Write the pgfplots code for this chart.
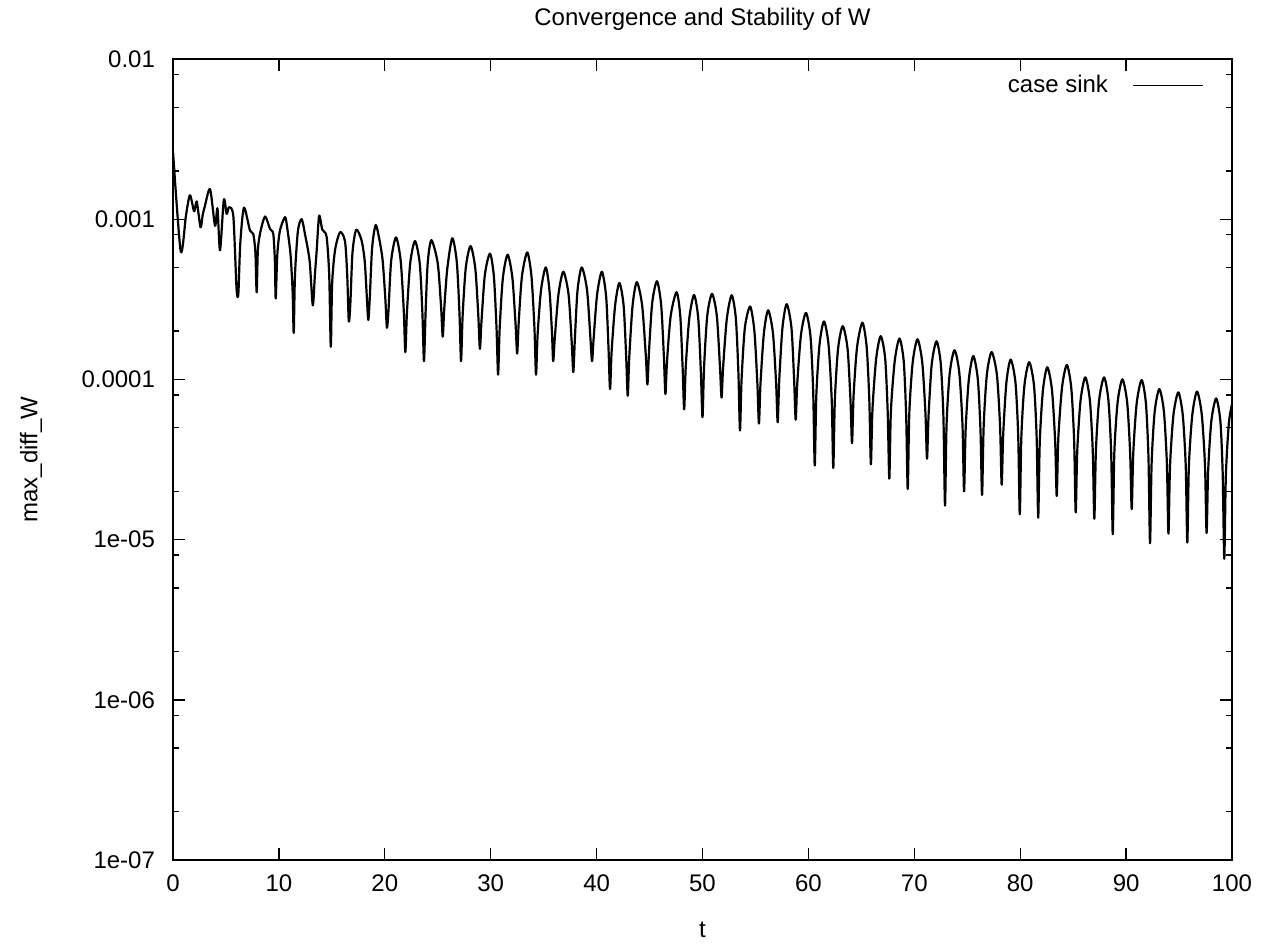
\documentclass[border=0pt]{standalone}
\usepackage{fontspec}
\setmainfont{Liberation Sans}
\usepackage{pgfplots}
\pgfplotsset{compat=1.18}
\begin{document}
\begin{tikzpicture}[font=\fontsize{12}{14}\selectfont]
\useasboundingbox (-86.5pt,-43.5pt) rectangle (554pt,430pt);
\begin{axis}[
    at={(0,0)}, anchor=south west,
    scale only axis,
    width=529.5pt, height=400.5pt,
    ymode=log,
    xmin=0, xmax=100,
    ymin=1e-7, ymax=1e-2,
    xtick={0,10,...,100},
    xticklabels={0,10,20,30,40,50,60,70,80,90,100},
    ytick={1e-7,1e-6,1e-5,1e-4,1e-3,1e-2},
    yticklabels={1e-07,1e-06,1e-05,0.0001,0.001,0.01},
    minor ytick={2e-7,5e-7,8e-7,2e-6,5e-6,8e-6,2e-5,5e-5,8e-5,2e-4,5e-4,8e-4,2e-3,5e-3,8e-3},
    minor x tick num=0,
    tick align=inside,
    major tick length=6pt,
    minor tick length=3pt,
    axis line style={line width=0.8pt},
    every tick/.style={black, line width=0.7pt},
    title={Convergence and Stability of W},
    title style={at={(rel axis cs:0.5,1)}, anchor=center, yshift=14pt},
    xlabel={t},
    xlabel style={at={(rel axis cs:0.5,0)}, anchor=center, yshift=-35pt},
    ylabel={max\_diff\_W},
    ylabel style={at={(rel axis cs:0,0.5)}, anchor=center, yshift=71pt},
    yticklabel style={xshift=-5.5pt},
    xticklabel style={yshift=-4pt},
    legend plot pos=right,
    legend style={at={(rel axis cs:1,1)}, anchor=north east, draw=none, fill=none,
        xshift=-11pt, yshift=-4pt, font=\fontsize{12}{14}\selectfont},
    legend image code/.code={\path (0pt,0pt); \draw[black, line width=0.5pt] (10pt,0pt) -- (45pt,0pt);},
]
\addplot[black, line width=1.1pt, line join=round, smooth, tension=0.45] coordinates {
(0,2.65e-3) (0.73,6.3e-4) (1.23,1.06e-3) (1.6,1.41e-3) (2.0,1.12e-3) (2.24,1.29e-3)
(2.6,8.9e-4) (2.8,1.06e-3) (3.0,1.2e-3) (3.5,1.54e-3) (3.97,9.1e-4) (4.2,1.17e-3)
(4.44,6.4e-4) (4.8,1.32e-3) (5.07,1.08e-3) (5.3,1.19e-3) (5.7,1.04e-3) (6.0,3.7e-4)
(6.17,3.4e-4) (6.35,7e-4) (6.7,1.18e-3) (7.27,8.5e-4) (7.58,8.1e-4) (7.78,6.2e-4)
(7.9,3.5e-4) (8.02,6.5e-4) (8.28,8.5e-4) (8.7,1.04e-3) (9.16,8.7e-4) (9.47,8.1e-4)
(9.62,5.5e-4) (9.7,3.2e-4) (9.85,6e-4) (10.1,8.5e-4) (10.58,1.03e-3) (10.8,8.7e-4)
(11.1,6.0e-4) (11.3,3.5e-4) (11.4,1.95e-4) (11.52,4.5e-4) (11.8,8.5e-4) (12.15,1.0e-3)
(12.46,8.1e-4) (12.9,5.5e-4) (13.2,2.9e-4) (13.4,4.5e-4) (13.57,6.4e-4) (13.8,1.05e-3)
(14.1,8.6e-4) (14.5,7.8e-4) (14.75,4.5e-4) (14.9,1.6e-4) (15.03,4e-4) (15.3,6.4e-4)
(15.77,8.3e-4) (16.24,7.3e-4) (16.45,4.5e-4) (16.6,2.3e-4)
(16.75,3.0e-4) (16.95,6.2e-4) (17.3,8.6e-4) (17.8,7.4e-4) (18.1,5.5e-4) (18.3,3.3e-4) (18.44,2.35e-4)
(18.58,3.2e-4) (18.8,6.6e-4) (19.14,9.2e-4) (19.5,7.4e-4) (19.8,5.5e-4) (20.05,3.2e-4) (20.2,2.1e-4)
(20.35,2.7e-4) (20.6,5.5e-4) (21.06,7.7e-4) (21.5,5.5e-4) (21.79,2.7e-4) (21.94,1.48e-4)
(22.09,2.6e-4) (22.4,5.3e-4) (22.85,7.3e-4) (23.3,5.3e-4) (23.55,2.6e-4) (23.7,1.3e-4)
(23.85,2.6e-4) (24.05,5.3e-4) (24.4,7.4e-4) (25.0,5.3e-4) (25.32,2.8e-4) (25.47,1.85e-4)
(25.62,2.8e-4) (25.9,4.9e-4) (26.37,7.6e-4) (26.8,5.4e-4) (27.05,2.6e-4) (27.2,1.3e-4)
(27.35,2.5e-4) (27.65,5e-4) (28.1,6.8e-4) (28.55,4.9e-4) (28.83,2.5e-4) (28.98,1.55e-4)
(29.13,2.3e-4) (29.45,4.5e-4) (29.93,6.1e-4) (30.3,4.4e-4) (30.55,2.1e-4) (30.7,1.07e-4)
(30.85,2.1e-4) (31.15,4.3e-4) (31.6,6e-4) (32.05,4.3e-4) (32.35,2.2e-4) (32.5,1.45e-4)
(32.65,2.3e-4) (32.95,4.4e-4) (33.45,6.2e-4) (33.85,4.4e-4) (34.13,2.1e-4) (34.28,1.07e-4)
(34.43,1.9e-4) (34.75,3.6e-4) (35.2,5e-4) (35.55,3.6e-4) (35.78,2e-4) (35.9,1.3e-4)
(36.05,1.8e-4) (36.4,3.4e-4) (36.86,4.7e-4) (37.35,3.4e-4) (37.65,1.7e-4) (37.8,1.11e-4)
(37.95,1.8e-4) (38.2,3.6e-4) (38.6,5e-4) (39.1,3.6e-4) (39.42,1.8e-4) (39.57,1.3e-4)
(39.72,1.8e-4) (40.05,3.4e-4) (40.5,4.7e-4) (40.9,3.3e-4) (41.12,1.6e-4) (41.27,8.7e-5)
(41.42,1.5e-4) (41.75,2.9e-4) (42.15,4e-4) (42.55,2.9e-4) (42.79,1.4e-4) (42.94,7.9e-5)
(43.09,1.4e-4) (43.4,2.9e-4) (43.8,4.05e-4) (44.3,2.9e-4) (44.65,1.4e-4) (44.8,9.3e-5)
(44.95,1.5e-4) (45.25,3e-4) (45.7,4.1e-4) (46.1,2.9e-4) (46.35,1.4e-4) (46.5,8.1e-5)
(46.65,1.3e-4) (47.0,2.5e-4) (47.55,3.5e-4) (47.9,2.5e-4) (48.12,1.2e-4) (48.27,6.5e-5)
(48.42,1.2e-4) (48.75,2.4e-4) (49.2,3.36e-4) (49.6,2.4e-4) (49.85,1.1e-4) (50.0,5.8e-5)
(50.15,1.2e-4) (50.45,2.5e-4) (50.9,3.42e-4) (51.35,2.5e-4) (51.65,1.2e-4) (51.8,7.7e-5)
(51.95,1.2e-4) (52.3,2.4e-4) (52.76,3.35e-4) (53.15,2.4e-4) (53.39,1.1e-4) (53.54,4.8e-5)
(53.69,1e-4) (54.0,2.1e-4) (54.5,2.85e-4) (54.9,2.0e-4) (55.18,9.5e-5) (55.33,5.3e-5)
(55.48,9.5e-5) (55.8,1.95e-4) (56.2,2.7e-4) (56.65,1.95e-4) (56.95,9.5e-5) (57.1,5.4e-5)
(57.25,1.0e-4) (57.55,2.1e-4) (57.95,2.95e-4) (58.4,2.1e-4) (58.65,1.0e-4) (58.8,5.6e-5)
(58.95,9.5e-5) (59.3,1.9e-4) (59.77,2.6e-4) (60.2,1.85e-4) (60.45,8.5e-5) (60.6,2.9e-5)
(60.75,8e-5) (61.05,1.65e-4) (61.47,2.3e-4) (61.9,1.65e-4) (62.2,7.5e-5) (62.35,2.8e-5)
(62.5,7.5e-5) (62.8,1.55e-4) (63.24,2.15e-4) (63.7,1.55e-4) (63.97,7.5e-5) (64.12,4e-5)
(64.27,8e-5) (64.6,1.6e-4) (65.1,2.26e-4) (65.5,1.6e-4) (65.75,7.5e-5) (65.9,2.95e-5)
(66.05,6.5e-5) (66.4,1.35e-4) (66.83,1.86e-4) (67.25,1.35e-4) (67.49,6.2e-5) (67.64,2.4e-5)
(67.79,6.3e-5) (68.15,1.3e-4) (68.6,1.8e-4) (69.0,1.3e-4) (69.23,6e-5) (69.38,2.07e-5)
(69.53,6.2e-5) (69.85,1.28e-4) (70.3,1.78e-4) (70.75,1.28e-4) (71.05,6.2e-5) (71.2,3.2e-5)
(71.35,6e-5) (71.65,1.25e-4) (72.1,1.73e-4) (72.5,1.25e-4) (72.75,5.8e-5) (72.9,1.63e-5)
(73.05,5.3e-5) (73.35,1.1e-4) (73.8,1.52e-4) (74.25,1.1e-4) (74.55,5.2e-5) (74.7,2e-5)
(74.85,4.9e-5) (75.15,1.0e-4) (75.57,1.4e-4) (76.0,1.0e-4) (76.25,4.8e-5) (76.4,1.9e-5)
(76.55,5.1e-5) (76.85,1.07e-4) (77.3,1.48e-4) (77.8,1.07e-4) (78.1,5.1e-5) (78.25,2.2e-5)
(78.4,4.6e-5) (78.7,9.6e-5) (79.1,1.33e-4) (79.55,9.6e-5) (79.81,4.5e-5) (79.96,1.44e-5)
(80.11,4.4e-5) (80.4,9.2e-5) (80.85,1.28e-4) (81.3,9.2e-5) (81.55,4.4e-5) (81.7,1.37e-5)
(81.85,4.1e-5) (82.15,8.6e-5) (82.56,1.19e-4) (83.0,8.6e-5) (83.3,4.1e-5) (83.45,1.87e-5)
(83.6,4.3e-5) (83.95,8.9e-5) (84.4,1.23e-4) (84.82,8.9e-5) (85.09,4.2e-5) (85.24,1.48e-5)
(85.39,3.6e-5) (85.7,7.4e-5) (86.15,1.03e-4) (86.58,7.4e-5) (86.85,3.6e-5) (87.0,1.35e-5)
(87.15,3.6e-5) (87.45,7.4e-5) (87.92,1.03e-4) (88.33,7.4e-5) (88.59,3.5e-5) (88.74,1.08e-5)
(88.89,3.5e-5) (89.2,7.2e-5) (89.65,1.0e-4) (90.1,7.2e-5) (90.38,3.5e-5) (90.53,1.55e-5)
(90.68,3.5e-5) (91.0,7.1e-5) (91.47,9.9e-5) (91.87,7.1e-5) (92.11,3.3e-5) (92.26,9.5e-6)
(92.41,3.0e-5) (92.7,6.3e-5) (93.14,8.7e-5) (93.57,6.3e-5) (93.85,3.0e-5) (94.0,1.09e-5)
(94.15,2.9e-5) (94.47,6e-5) (94.93,8.3e-5) (95.35,6e-5) (95.63,2.9e-5) (95.78,9.6e-6)
(95.93,2.9e-5) (96.25,6e-5) (96.7,8.4e-5) (97.15,6e-5) (97.45,2.9e-5) (97.6,1.1e-5)
(97.75,2.7e-5) (98.05,5.5e-5) (98.5,7.6e-5) (98.9,5.5e-5) (99.12,2.6e-5) (99.27,7.6e-6)
(99.42,2.5e-5) (99.7,5.3e-5) (100,7e-5)
};
\addlegendentry{case sink}
\end{axis}
\end{tikzpicture}
\end{document}
